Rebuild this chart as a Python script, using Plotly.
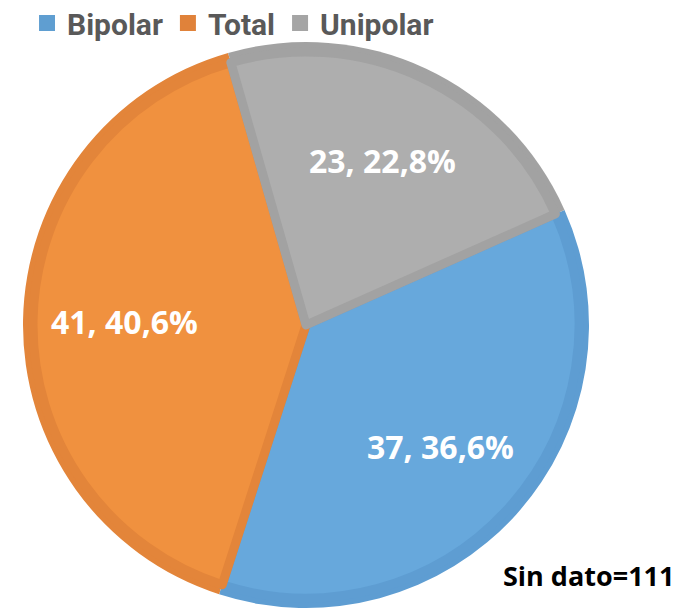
import math
import plotly.graph_objects as go

# data
labels = ["Bipolar", "Total", "Unipolar"]
values = [37, 41, 23]
missing_note = "Sin dato=111"

# colours
fill_colors = ["#67A8DC", "#F0913F", "#AEAEAE"]
border_colors = ["#5E9DD2", "#E3853A", "#A2A2A2"]
legend_colors = ["#5F9ED1", "#E0823A", "#A5A5A5"]

total = sum(values)
slice_text = ["{}, {:.1f}%".format(v, 100 * v / total).replace(".", ",") for v in values]

W, H = 682, 610
cx, cy = 298, 317       # pie centre in px (page adds an 8px body margin)
r_out, r_in = 283, 273  # outer ring / inner face
start_angle = 66        # first slice starts here, clockwise from 12 o'clock
label_frac = 0.64       # label distance from centre, as a share of the radius


def domain(r):
    return dict(x=[(cx - r) / W, (cx + r) / W],
                y=[1 - (cy + r) / H, 1 - (cy - r) / H])


fig = go.Figure()

# darker ring (outer edge)
fig.add_trace(go.Pie(labels=labels, values=values, sort=False,
                     direction="clockwise", rotation=start_angle,
                     marker=dict(colors=border_colors, line=dict(width=0)),
                     textinfo="none", hoverinfo="skip", showlegend=False,
                     domain=domain(r_out)))

# lighter face with inset borders
fig.add_trace(go.Pie(labels=labels, values=values, sort=False,
                     direction="clockwise", rotation=start_angle,
                     marker=dict(colors=fill_colors,
                                 line=dict(color=border_colors, width=9)),
                     textinfo="none", hoverinfo="skip", showlegend=False,
                     domain=domain(r_in)))

# slice labels, placed on each slice's middle angle
angle = start_angle
for v, txt in zip(values, slice_text):
    sweep = 360 * v / total
    mid = math.radians(angle + sweep / 2)
    angle += sweep
    d = label_frac * r_out
    px = cx + d * math.sin(mid)
    py = cy - d * math.cos(mid)
    fig.add_annotation(text=txt, xref="paper", yref="paper",
                       x=px / W, y=1 - py / H, xanchor="center", yanchor="middle",
                       showarrow=False,
                       font=dict(family="Open Sans", size=32, color="white", weight="bold"))

# legend entries
for name, col in zip(labels, legend_colors):
    fig.add_trace(go.Scatter(x=[None], y=[None], mode="markers", name=name,
                             marker=dict(symbol="square", size=16, color=col)))

fig.add_annotation(text=missing_note, xref="paper", yref="paper",
                   x=668 / W, y=1 - 567 / H, xanchor="right", yanchor="middle",
                   showarrow=False,
                   font=dict(family="Open Sans", size=27, color="black", weight="bold"))

fig.update_layout(
    width=W, height=H,
    margin=dict(l=0, r=0, t=0, b=0, autoexpand=False),
    paper_bgcolor="white", plot_bgcolor="white",
    xaxis=dict(visible=False), yaxis=dict(visible=False),
    legend=dict(orientation="h", x=0.0279, y=1 - 15 / H, xanchor="left", yanchor="middle",
                bgcolor="rgba(0,0,0,0)",
                font=dict(family="Roboto", size=30, color="#595959", weight="bold")),
)

fig.write_html("out.html")
